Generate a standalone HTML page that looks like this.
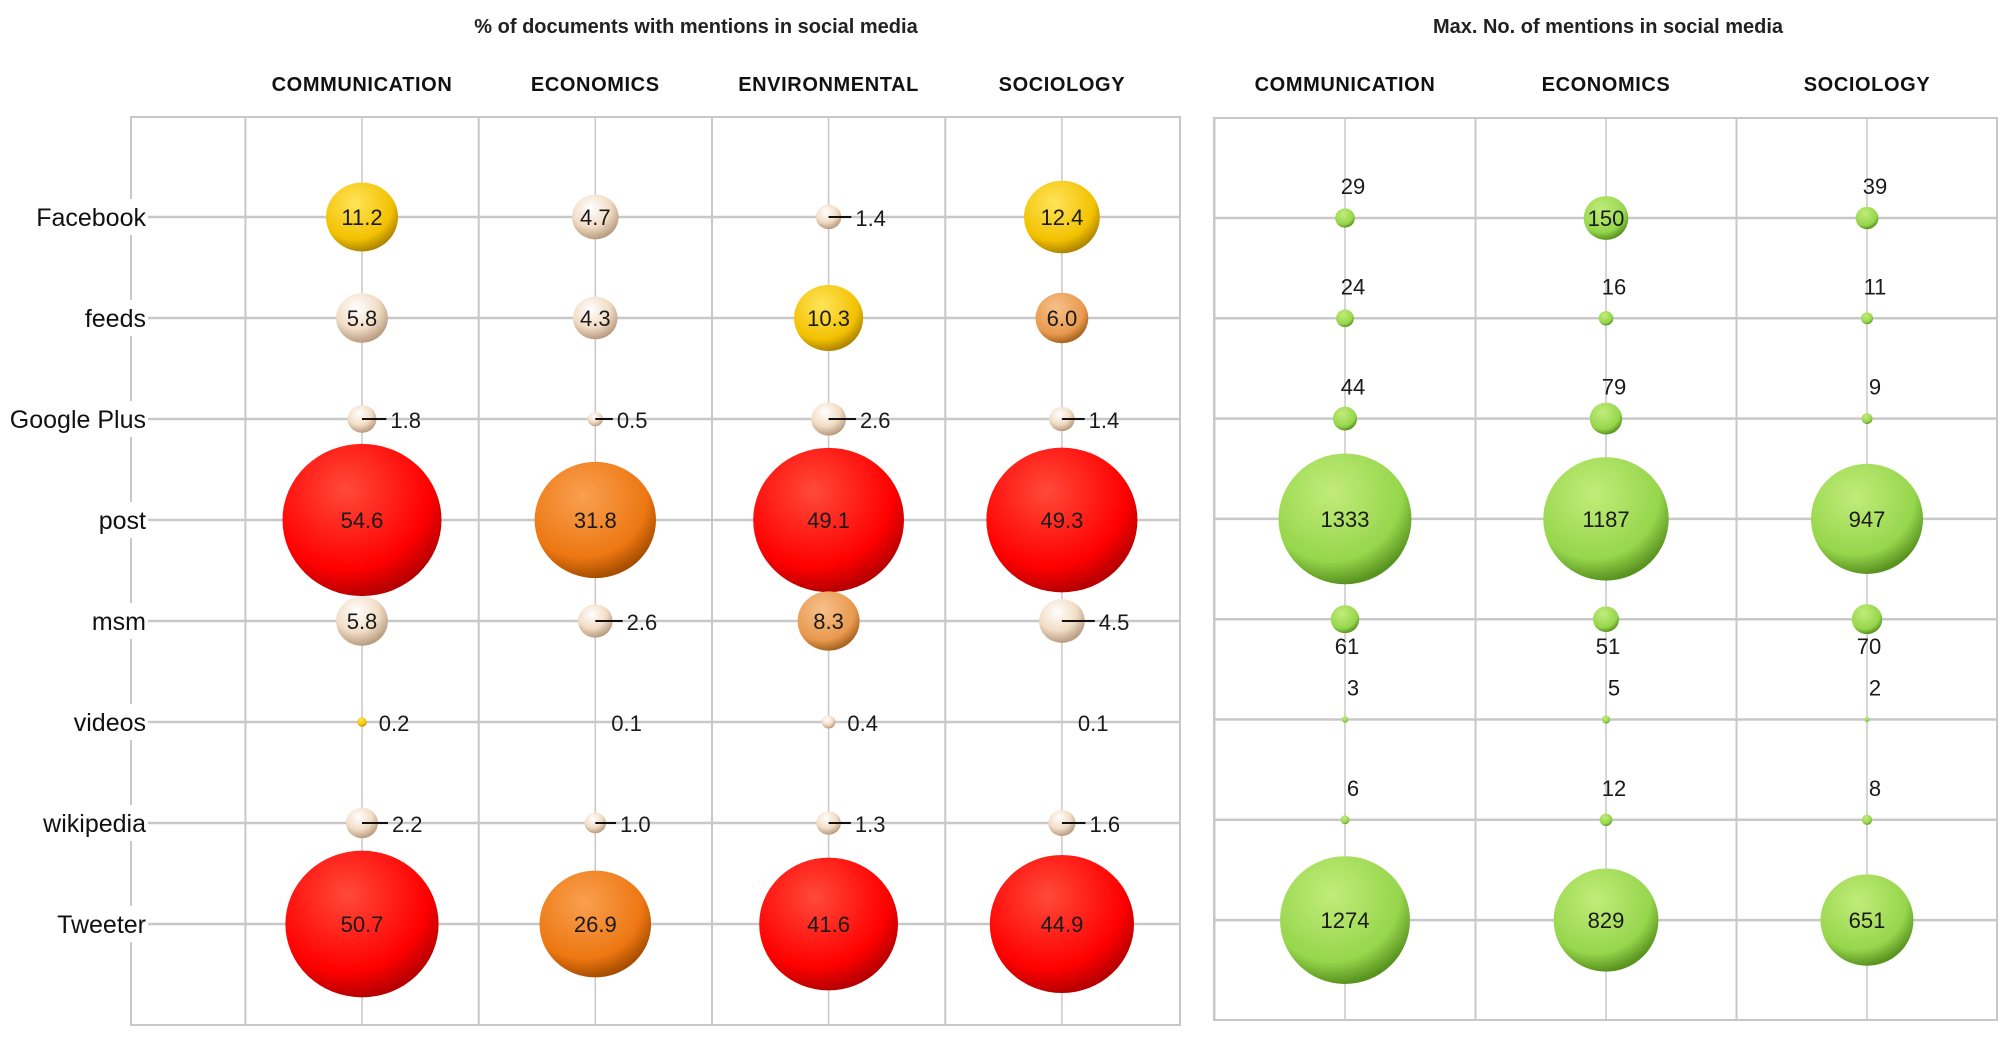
<!DOCTYPE html>
<html><head><meta charset="utf-8"><style>
html,body{margin:0;padding:0;background:#fff;}
svg{display:block;font-family:"Liberation Sans",sans-serif;}
</style></head><body>
<svg id="chart" width="2008" height="1038" viewBox="0 0 2008 1038">
<defs>
<radialGradient id="g-red" cx="40%" cy="30%" r="70%"><stop offset="0" stop-color="#ff4a3a"/><stop offset="0.75" stop-color="#ff0000"/><stop offset="1" stop-color="#b80000"/></radialGradient>
<radialGradient id="g-orange" cx="40%" cy="30%" r="70%"><stop offset="0" stop-color="#f9a050"/><stop offset="0.75" stop-color="#ed7712"/><stop offset="1" stop-color="#a84e00"/></radialGradient>
<radialGradient id="g-yellow" cx="40%" cy="30%" r="70%"><stop offset="0" stop-color="#ffe45a"/><stop offset="0.75" stop-color="#f2c100"/><stop offset="1" stop-color="#b08600"/></radialGradient>
<radialGradient id="g-lorange" cx="40%" cy="30%" r="70%"><stop offset="0" stop-color="#f7c08a"/><stop offset="0.75" stop-color="#e8994e"/><stop offset="1" stop-color="#a86420"/></radialGradient>
<radialGradient id="g-beige" cx="40%" cy="30%" r="70%"><stop offset="0" stop-color="#ffffff"/><stop offset="0.6" stop-color="#f2ddc6"/><stop offset="1" stop-color="#b89c80"/></radialGradient>
<radialGradient id="g-green" cx="40%" cy="30%" r="70%"><stop offset="0" stop-color="#c2ec7a"/><stop offset="0.75" stop-color="#96d64c"/><stop offset="1" stop-color="#5a9420"/></radialGradient>
</defs>
<g id="layer"></g>
</svg>
<script>
var rowsL = ["Facebook","feeds","Google Plus","post","msm","videos","wikipedia","Tweeter"];
var catsL = ["COMMUNICATION","ECONOMICS","ENVIRONMENTAL","SOCIOLOGY"];
var catsR = ["COMMUNICATION","ECONOMICS","SOCIOLOGY"];
var commPct = [11.2,5.8,1.8,54.6,5.8,0.2,2.2,50.7];
var econPct = [4.7,4.3,0.5,31.8,2.6,0.1,1.0,26.9];
var envPct  = [1.4,10.3,2.6,49.1,8.3,0.4,1.3,41.6];
var socPct  = [12.4,6.0,1.4,49.3,4.5,0.1,1.6,44.9];
var commMax = [29,24,44,1333,61,3,6,1274];
var econMax = [150,16,79,1187,51,5,12,829];
var socMax  = [39,11,9,947,70,2,8,651];

var NS="http://www.w3.org/2000/svg";
var layer=document.getElementById('layer');
function mk(tag,attrs,parent){var e=document.createElementNS(NS,tag);for(var k in attrs)e.setAttribute(k,attrs[k]);(parent||layer).appendChild(e);return e;}

function lx(i){return 362+233.3*i;}
function ly(i){return 217+101*i;}
function rx(i){return 1345+261*i;}
function ry(i){return 218+100.3*i;}
function colorL(v){if(v>=40)return 'url(#g-red)';if(v>=20)return 'url(#g-orange)';if(v>=10)return 'url(#g-yellow)';if(v>=6)return 'url(#g-lorange)';if(v<0.3)return 'url(#g-yellow)';return 'url(#g-beige)';}

var t=mk('text',{x:696,y:33,'text-anchor':'middle','font-size':20,'font-weight':'bold',fill:'#222'});t.textContent='% of documents with mentions in social media';


t=mk('text',{x:1608,y:33,'text-anchor':'middle','font-size':20,'font-weight':'bold',fill:'#222'});t.textContent='Max. No. of mentions in social media';



var grid='#c8c8c8';
var gL=mk('g',{});


mk('rect',{x:131,y:117,width:1049,height:908,fill:'none',stroke:grid,'stroke-width':2},gL);
for(var i=0;i<catsL.length;i++){
  mk('line',{x1:lx(i),y1:117,x2:lx(i),y2:1025,stroke:grid,'stroke-width':1.5},gL);
  mk('line',{x1:lx(i)-116.6,y1:117,x2:lx(i)-116.6,y2:1025,stroke:grid,'stroke-width':2},gL);
}
for(var j=0;j<rowsL.length;j++){mk('line',{x1:131,y1:ly(j),x2:1180,y2:ly(j),stroke:grid,'stroke-width':2.5},gL);}
var gR=mk('g',{});


mk('rect',{x:1214,y:118,width:783,height:902,fill:'none',stroke:grid,'stroke-width':2},gR);
for(var i=0;i<catsR.length;i++){
  mk('line',{x1:rx(i),y1:118,x2:rx(i),y2:1020,stroke:grid,'stroke-width':1.5},gR);
  mk('line',{x1:rx(i)-130.5,y1:118,x2:rx(i)-130.5,y2:1020,stroke:grid,'stroke-width':2},gR);
}
for(var j=0;j<rowsL.length;j++){mk('line',{x1:1214,y1:ry(j),x2:1997,y2:ry(j),stroke:grid,'stroke-width':2.5},gR);}

catsL.forEach(function(c,i){var e=mk('text',{x:lx(i),y:91,'text-anchor':'middle','font-size':20,'font-weight':'bold',fill:'#111','letter-spacing':'0.6'});e.textContent=c;

});
catsR.forEach(function(c,i){var e=mk('text',{x:rx(i),y:91,'text-anchor':'middle','font-size':20,'font-weight':'bold',fill:'#111','letter-spacing':'0.6'});e.textContent=c;

});
rowsL.forEach(function(r,j){
  mk('rect',{x:0,y:ly(j)-18,width:148,height:36,fill:'#fff'});
  var e=mk('text',{x:146,y:ly(j)+9,'text-anchor':'end','font-size':25,fill:'#111'});e.textContent=r;
  
  
});

var seriesL=[commPct,econPct,envPct,socPct];
seriesL.forEach(function(vals,i){
  vals.forEach(function(v,j){
    var cx=lx(i),cy=ly(j),rX=10.76*Math.sqrt(v),rY=10.3*Math.sqrt(v);
    var g=mk('g',{});
    
    
    if(v>0.15) mk('ellipse',{cx:cx,cy:cy,rx:rX,ry:rY,fill:colorL(v)},g);
    var lab;
    var inside = v>=4.2 && !(v>4.4 && v<4.6);
    if(inside){
      lab=mk('text',{x:cx,y:cy+8,'text-anchor':'middle','font-size':22,fill:'#1a1a1a'},g);
    } else {
      var r=Math.max(rX,4);
      if(v>=0.5) mk('line',{x1:cx,y1:cy,x2:cx+r+10,y2:cy,stroke:'#111','stroke-width':2},g);
      lab=mk('text',{x:cx+r+(v>=0.5?14:12),y:cy+9,'font-size':22,fill:'#1a1a1a'},g);
    }
    lab.textContent=v.toFixed(1);
  });
});

var seriesR=[commMax,econMax,socMax];
seriesR.forEach(function(vals,i){
  vals.forEach(function(v,j){
    var cx=rx(i),cy=ry(j),rX=1.82*Math.sqrt(v),rY=1.79*Math.sqrt(v);
    var g=mk('g',{});
    
    
    mk('ellipse',{cx:cx,cy:cy,rx:rX,ry:rY,fill:'url(#g-green)'},g);
    var lab;
    if(v>=150) lab=mk('text',{x:cx,y:cy+8,'text-anchor':'middle','font-size':22,fill:'#1a1a1a'},g);
    else if(rowsL[j]==='msm') lab=mk('text',{x:cx+2,y:cy+35,'text-anchor':'middle','font-size':22,fill:'#1a1a1a'},g);
    else lab=mk('text',{x:cx+8,y:cy-24,'text-anchor':'middle','font-size':22,fill:'#1a1a1a'},g);
    lab.textContent=String(v);
  });
});
</script>
</body></html>
